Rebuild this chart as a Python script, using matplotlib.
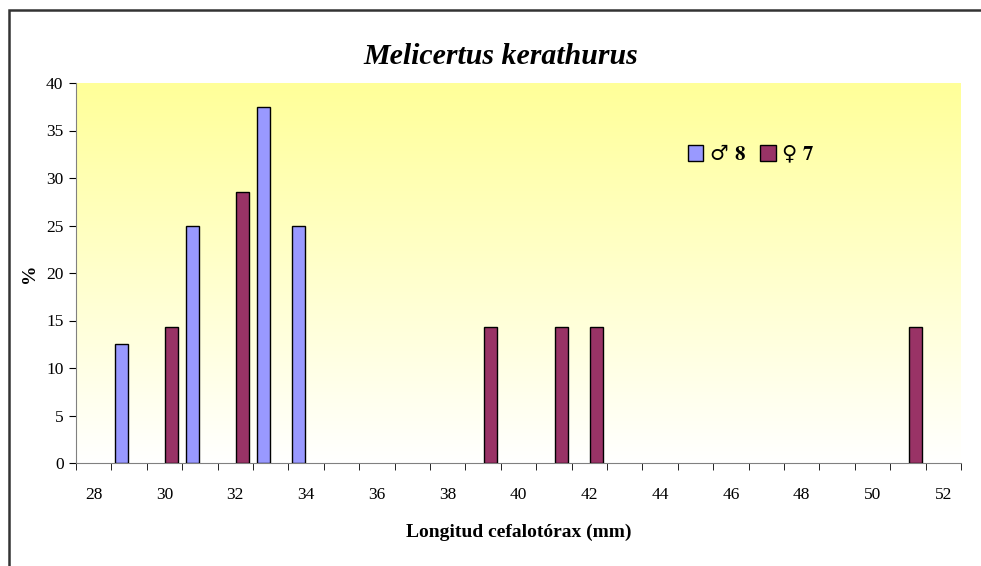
import numpy as np
import matplotlib
matplotlib.use('Agg')
import matplotlib.pyplot as plt
from matplotlib.colors import LinearSegmentedColormap
from matplotlib.patches import Rectangle

plt.rcParams['font.family'] = ['Liberation Serif', 'DejaVu Serif']
plt.rcParams['mathtext.fontset'] = 'stix'

# Longitud cefalotórax (mm), una categoría por mm
longitud = list(range(28, 53))
# % de machos (n = 8) y hembras (n = 7)
machos = [0, 12.5, 0, 25, 0, 37.5, 25, 0, 0, 0, 0, 0, 0,
          0, 0, 0, 0, 0, 0, 0, 0, 0, 0, 0, 0]
hembras = [0, 0, 14.29, 0, 28.57, 0, 0, 0, 0, 0, 0, 14.29, 0,
           14.29, 14.29, 0, 0, 0, 0, 0, 0, 0, 0, 14.29, 0]
n_machos = 8
n_hembras = 7

fig = plt.figure(figsize=(9.81, 5.66), dpi=100)
ax = fig.add_axes([76/981, 1 - 463/566, 885/981, 380/566])

x = np.arange(len(longitud))
m = np.array(machos)
h = np.array(hembras)
w = 0.37
# solo las barras con valor (las de 0 no se dibujan)
ax.bar(x[m > 0] - 0.21, m[m > 0], w, color='#9999FF', edgecolor='black',
       linewidth=1, zorder=3, label='♂ $\\mathbf{%d}$' % n_machos)
ax.bar(x[h > 0] + 0.21, h[h > 0], w, color='#993366', edgecolor='black',
       linewidth=1, zorder=3, label='♀ $\\mathbf{%d}$' % n_hembras)

# fondo degradado amarillo -> blanco
cmap = LinearSegmentedColormap.from_list('fondo', ['#FFFFFF', '#FFFF99'])
grad = np.linspace(0, 1, 256).reshape(-1, 1)
ax.imshow(grad, extent=[-0.5, len(longitud) - 0.5, 0, 40], origin='lower',
          aspect='auto', cmap=cmap, zorder=0)

ax.set_xlim(-0.5, len(longitud) - 0.5)
ax.set_ylim(0, 40)
ax.set_yticks(range(0, 41, 5))
ax.set_xticks(x[::2])
ax.set_xticklabels([str(v) for v in longitud[::2]])
ax.set_xticks(np.arange(-0.5, len(longitud)), minor=True)
ax.tick_params(axis='x', which='major', length=0, pad=17, labelsize=12.5)
ax.tick_params(axis='x', which='minor', length=5, direction='out', color='black')
ax.tick_params(axis='y', length=5, direction='out', labelsize=12.5, pad=4)

for s in ['top', 'right']:
    ax.spines[s].set_visible(False)
for s in ['left', 'bottom']:
    ax.spines[s].set_color('#808080')

ax.set_xlabel('Longitud cefalotórax (mm)', fontsize=14, fontweight='bold', labelpad=15)
ax.set_ylabel('%', fontsize=14, fontweight='bold', labelpad=6)
fig.text(0.51, 1 - 57/566, 'Melicertus kerathurus', ha='center', va='center',
         fontsize=21.5, fontweight='bold', fontstyle='italic')

ax.legend(loc='upper left', bbox_to_anchor=(0.67, 0.89), ncol=2, frameon=False,
          handlelength=0.75, handleheight=0.75, handletextpad=0.25,
          columnspacing=0.7, prop={'family': ['DejaVu Sans'], 'size': 15})

fig.patches.append(Rectangle((9/981, -0.1), 1.1, (566 - 10)/566 + 0.1,
                             transform=fig.transFigure, fill=False,
                             edgecolor='#333333', linewidth=1.8))

fig.savefig('out.png', dpi=100)
